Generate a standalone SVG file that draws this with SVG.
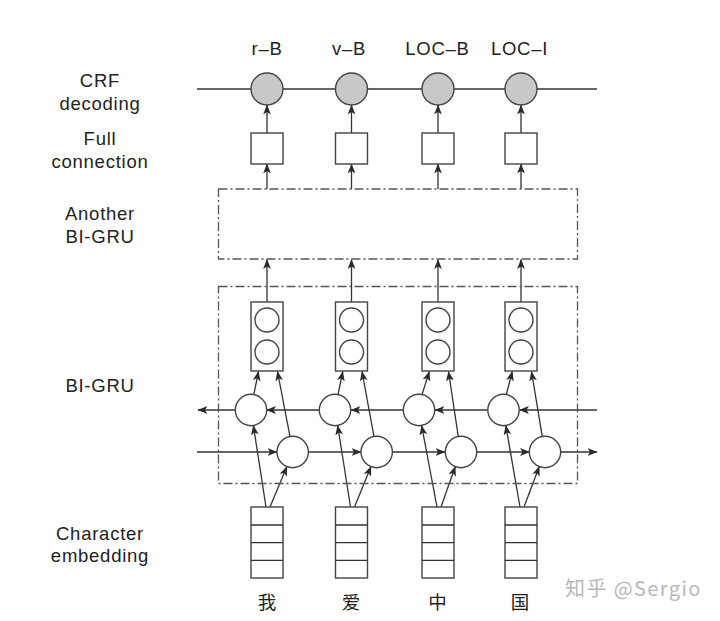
<svg xmlns="http://www.w3.org/2000/svg" width="720" height="621" viewBox="0 0 720 621">
<defs>
<marker id="ah" markerUnits="userSpaceOnUse" markerWidth="10" markerHeight="8" viewBox="0 0 9 7" refX="8.5" refY="3.5" orient="auto">
<path d="M0,0 L9,3.5 L0,7 L2.2,3.5 z" fill="#2a2a2a"/>
</marker>
<style>
.lbl{font-family:"Liberation Sans",Arial,sans-serif;font-size:18.5px;letter-spacing:0.75px;fill:#222;text-anchor:middle}
.cjk{font-family:"Noto Sans CJK SC",sans-serif;font-size:18.5px;font-weight:400;fill:#222;text-anchor:middle}
.ln{stroke:#333;stroke-width:1.3;fill:none}
.ar{stroke:#333;stroke-width:1.3;fill:none;marker-end:url(#ah)}
.box{stroke:#444;stroke-width:1.4;fill:#fff}
.crf{stroke:#444;stroke-width:1.4;fill:#c8c8c8}
.cell{stroke:#444;stroke-width:1.4;fill:#fff}
.dd{stroke:#555;stroke-width:1.3;fill:none;stroke-dasharray:9 3 2 3}
</style>
</defs>
<rect width="720" height="621" fill="#fff"/>

<g id="labels">
<text class="lbl" x="100" y="86.5">CRF</text>
<text class="lbl" x="100" y="109.5">decoding</text>
<text class="lbl" x="100" y="145">Full</text>
<text class="lbl" x="100" y="168">connection</text>
<text class="lbl" x="100" y="220">Another</text>
<text class="lbl" x="100" y="242.5">BI-GRU</text>
<text class="lbl" x="100" y="392">BI-GRU</text>
<text class="lbl" x="100" y="540">Character</text>
<text class="lbl" x="100" y="562">embedding</text>
<text class="lbl" x="267" y="55">r–B</text>
<text class="lbl" x="349" y="55">v–B</text>
<text class="lbl" x="437.5" y="55">LOC–B</text>
<text class="lbl" x="519.5" y="55">LOC–I</text>
</g>

<g id="connectors">
<line class="ln" x1="197" y1="89" x2="597" y2="89" stroke="#555"/>
<line class="ar" x1="267" y1="133" x2="267" y2="105"/>
<line class="ar" x1="351.5" y1="133" x2="351.5" y2="105"/>
<line class="ar" x1="438" y1="133" x2="438" y2="105"/>
<line class="ar" x1="521" y1="133" x2="521" y2="105"/>
<line class="ar" x1="267" y1="189" x2="267" y2="164"/>
<line class="ar" x1="351.5" y1="189" x2="351.5" y2="164"/>
<line class="ar" x1="438" y1="189" x2="438" y2="164"/>
<line class="ar" x1="521" y1="189" x2="521" y2="164"/>
<line class="ar" x1="267" y1="302" x2="267" y2="259.5"/>
<line class="ar" x1="351.5" y1="302" x2="351.5" y2="259.5"/>
<line class="ar" x1="438" y1="302" x2="438" y2="259.5"/>
<line class="ar" x1="521" y1="302" x2="521" y2="259.5"/>
<line class="ar" x1="597" y1="410" x2="519.5" y2="410"/>
<line class="ar" x1="487.5" y1="410" x2="435" y2="410"/>
<line class="ar" x1="403.5" y1="410" x2="351" y2="410"/>
<line class="ar" x1="319.5" y1="410" x2="266.5" y2="410"/>
<line class="ar" x1="235" y1="410" x2="198" y2="410"/>
<line class="ar" x1="197" y1="452" x2="277" y2="452"/>
<line class="ar" x1="308.5" y1="452" x2="361" y2="452"/>
<line class="ar" x1="392.5" y1="452" x2="445" y2="452"/>
<line class="ar" x1="476.5" y1="452" x2="529.5" y2="452"/>
<line class="ar" x1="560.5" y1="452" x2="597" y2="452"/>
<line class="ar" x1="266" y1="507" x2="253.4" y2="425.5"/>
<line class="ar" x1="270" y1="507" x2="286.9" y2="466.5"/>
<line class="ar" x1="253.8" y1="394.6" x2="258.5" y2="371.5"/>
<line class="ar" x1="290" y1="436.6" x2="277.5" y2="371.5"/>
<line class="ar" x1="350.5" y1="507" x2="337.7" y2="425.5"/>
<line class="ar" x1="354.5" y1="507" x2="371" y2="466.5"/>
<line class="ar" x1="338" y1="394.6" x2="342.8" y2="371.5"/>
<line class="ar" x1="374" y1="436.6" x2="362" y2="371.5"/>
<line class="ar" x1="437" y1="507" x2="421.6" y2="425.5"/>
<line class="ar" x1="441" y1="507" x2="455.3" y2="466.5"/>
<line class="ar" x1="422" y1="394.6" x2="429.3" y2="371.5"/>
<line class="ar" x1="458.3" y1="436.6" x2="448.5" y2="371.5"/>
<line class="ar" x1="520" y1="507" x2="505.8" y2="425.5"/>
<line class="ar" x1="524" y1="507" x2="539.3" y2="466.5"/>
<line class="ar" x1="506.3" y1="394.6" x2="512.3" y2="371.5"/>
<line class="ar" x1="542.3" y1="436.6" x2="531.5" y2="371.5"/>
</g>

<g id="another-bigru"><rect class="dd" x="218.5" y="189" width="359" height="70"/></g>
<g id="bigru"><rect class="dd" x="218.5" y="286.5" width="359" height="197"/></g>

<g id="crf-nodes">
<circle class="crf" cx="267" cy="89" r="16"/>
<circle class="crf" cx="351.5" cy="89" r="16"/>
<circle class="crf" cx="438" cy="89" r="16"/>
<circle class="crf" cx="521" cy="89" r="16"/>
</g>

<g id="fc-nodes">
<rect class="box" x="251" y="133" width="32" height="31"/>
<rect class="box" x="335.5" y="133" width="32" height="31"/>
<rect class="box" x="422" y="133" width="32" height="31"/>
<rect class="box" x="505" y="133" width="32" height="31"/>
</g>

<g id="stack-nodes">
<rect class="box" x="251" y="302" width="32" height="69"/>
<circle class="cell" cx="267" cy="320" r="12"/><circle class="cell" cx="267" cy="352" r="12"/>
<rect class="box" x="335.5" y="302" width="32" height="69"/>
<circle class="cell" cx="351.5" cy="320" r="12"/><circle class="cell" cx="351.5" cy="352" r="12"/>
<rect class="box" x="422" y="302" width="32" height="69"/>
<circle class="cell" cx="438" cy="320" r="12"/><circle class="cell" cx="438" cy="352" r="12"/>
<rect class="box" x="505" y="302" width="32" height="69"/>
<circle class="cell" cx="521" cy="320" r="12"/><circle class="cell" cx="521" cy="352" r="12"/>
</g>

<g id="backward-cells">
<circle class="cell" cx="251" cy="410" r="15.7"/>
<circle class="cell" cx="335" cy="410" r="15.7"/>
<circle class="cell" cx="419" cy="410" r="15.7"/>
<circle class="cell" cx="503.5" cy="410" r="15.7"/>
</g>

<g id="forward-cells">
<circle class="cell" cx="292.7" cy="452" r="15.7"/>
<circle class="cell" cx="376.7" cy="452" r="15.7"/>
<circle class="cell" cx="461" cy="452" r="15.7"/>
<circle class="cell" cx="545" cy="452" r="15.7"/>
</g>

<g id="embeddings">
<g id="emb1"><rect class="box" x="251" y="507" width="32" height="71"/><path class="ln" d="M251,525H283M251,542.7H283M251,560.3H283" stroke="#444"/></g>
<g id="emb2"><rect class="box" x="335.5" y="507" width="32" height="71"/><path class="ln" d="M335.5,525H367.5M335.5,542.7H367.5M335.5,560.3H367.5" stroke="#444"/></g>
<g id="emb3"><rect class="box" x="422" y="507" width="32" height="71"/><path class="ln" d="M422,525H454M422,542.7H454M422,560.3H454" stroke="#444"/></g>
<g id="emb4"><rect class="box" x="505" y="507" width="32" height="71"/><path class="ln" d="M505,525H537M505,542.7H537M505,560.3H537" stroke="#444"/></g>
</g>

<g id="chars">
<text class="cjk" x="267" y="608.5">我</text>
<text class="cjk" x="351" y="608.5">爱</text>
<text class="cjk" x="437.5" y="608.5">中</text>
<text class="cjk" x="520" y="608.5">国</text>
</g>

<text x="565" y="596" font-family="'Noto Sans CJK SC',sans-serif" font-size="20" letter-spacing="1.4" fill="#b8b8b8">知乎 @Sergio</text>
</svg>
